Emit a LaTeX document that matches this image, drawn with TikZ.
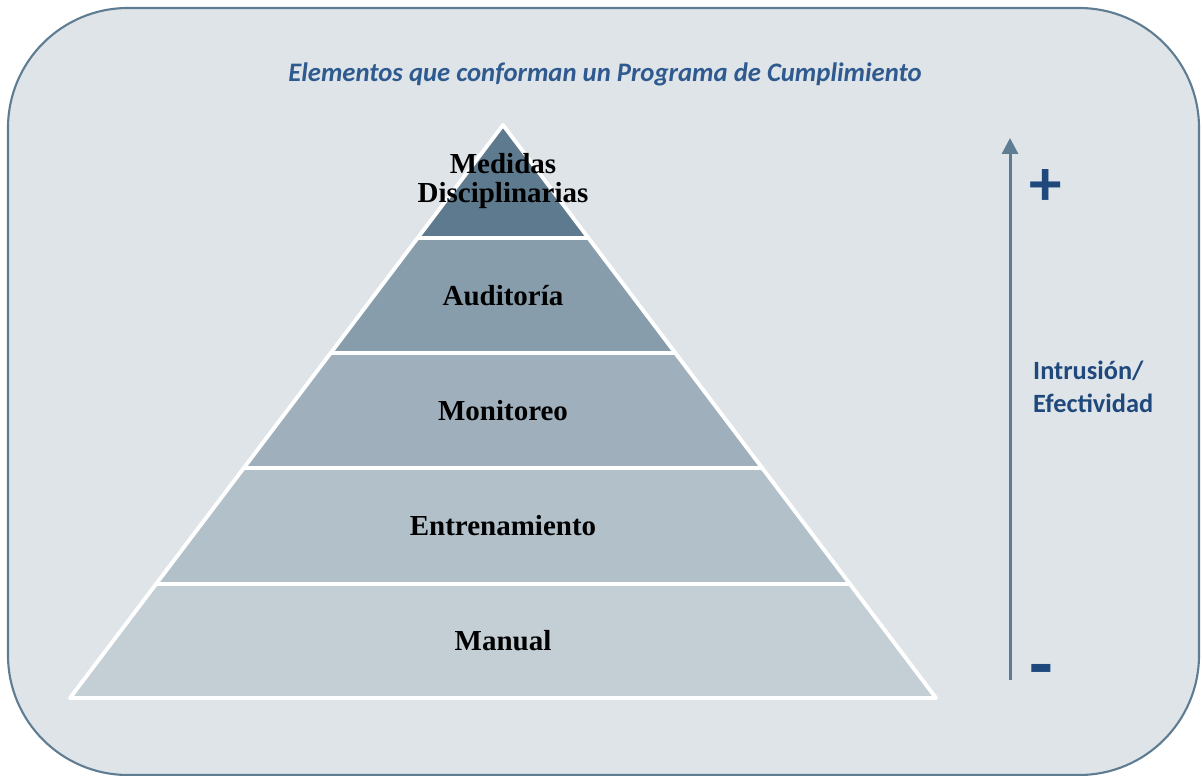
\documentclass[tikz,border=0pt]{standalone}
\usepackage{fontspec}
\setmainfont{Liberation Serif}
\newfontfamily\calibri{Carlito}
\usetikzlibrary{arrows.meta}

\definecolor{fondo}{HTML}{DFE4E8}
\definecolor{borde}{HTML}{5F7D92}
\definecolor{titulo}{HTML}{2F5A8F}
\definecolor{azul}{HTML}{1F497D}
\definecolor{capaA}{HTML}{5E7A8F}
\definecolor{capaB}{HTML}{889DAC}
\definecolor{capaC}{HTML}{9FB0BC}
\definecolor{capaD}{HTML}{B2C0C9}
\definecolor{capaE}{HTML}{C4CFD5}

\tikzset{
    capa/.style={draw=white, line width=2.2pt, line join=round},
    etiqueta/.style={font=\fontsize{16.5}{16}\selectfont\bfseries, text=black, align=center}
}

\begin{document}
\begin{tikzpicture}[x=0.02cm, y=-0.02cm]
    % Marco: 1 unidad = 1 pixel de la imagen
    \useasboundingbox (0,0) rectangle (1202,776);
    \fill[white] (0,0) rectangle (1202,776);
    \draw[fill=fondo, draw=borde, line width=1.2pt, rounded corners=2.4cm] (8,8) rectangle (1199,775);

    % Titulo
    \node[font=\calibri\fontsize{15.2}{18}\selectfont\bfseries\itshape, text=titulo] (titulo) at (605,74) {Elementos que conforman un Programa de Cumplimiento};

    % Capas de la piramide, vertice en (503,125), base de (70,698) a (936,698)
    \draw[capa, fill=capaE] (156.1,584) -- (849.9,584) -- (936,698) -- (70,698) -- cycle;
    \draw[capa, fill=capaD] (243.8,468) -- (762.2,468) -- (849.9,584) -- (156.1,584) -- cycle;
    \draw[capa, fill=capaC] (330.7,353) -- (675.3,353) -- (762.2,468) -- (243.8,468) -- cycle;
    \draw[capa, fill=capaB] (417.6,238) -- (588.4,238) -- (675.3,353) -- (330.7,353) -- cycle;
    \draw[capa, fill=capaA] (503,125) -- (588.4,238) -- (417.6,238) -- cycle;

    % Nombres de las capas
    \node[etiqueta] (medidas) at (503,181) {Medidas\\Disciplinarias};
    \node[etiqueta] (auditoria) at (503,296) {Auditoría};
    \node[etiqueta] (monitoreo) at (503,411) {Monitoreo};
    \node[etiqueta] (entrenamiento) at (503,526) {Entrenamiento};
    \node[etiqueta] (manual) at (503,641) {Manual};

    % Flecha de la escala
    \coordinate (abajo) at (1010,680);
    \coordinate (arriba) at (1010,138);
    \draw[borde, line width=1.7pt, -{Triangle[width=9pt, length=9pt]}] (abajo) -- (arriba);

    % Extremos y texto de la escala
    \node[font=\calibri\fontsize{37}{37}\selectfont\bfseries, text=azul] (mas) at (1046,188) {+};
    \node[font=\calibri\fontsize{44}{44}\selectfont\bfseries, text=azul] (menos) at (1041,677) {-};
    \node[font=\calibri\fontsize{15}{18.7}\selectfont\bfseries, text=azul, align=left, anchor=west] (escala) at (1027,387) {Intrusión/\\Efectividad};

\end{tikzpicture}
\end{document}
